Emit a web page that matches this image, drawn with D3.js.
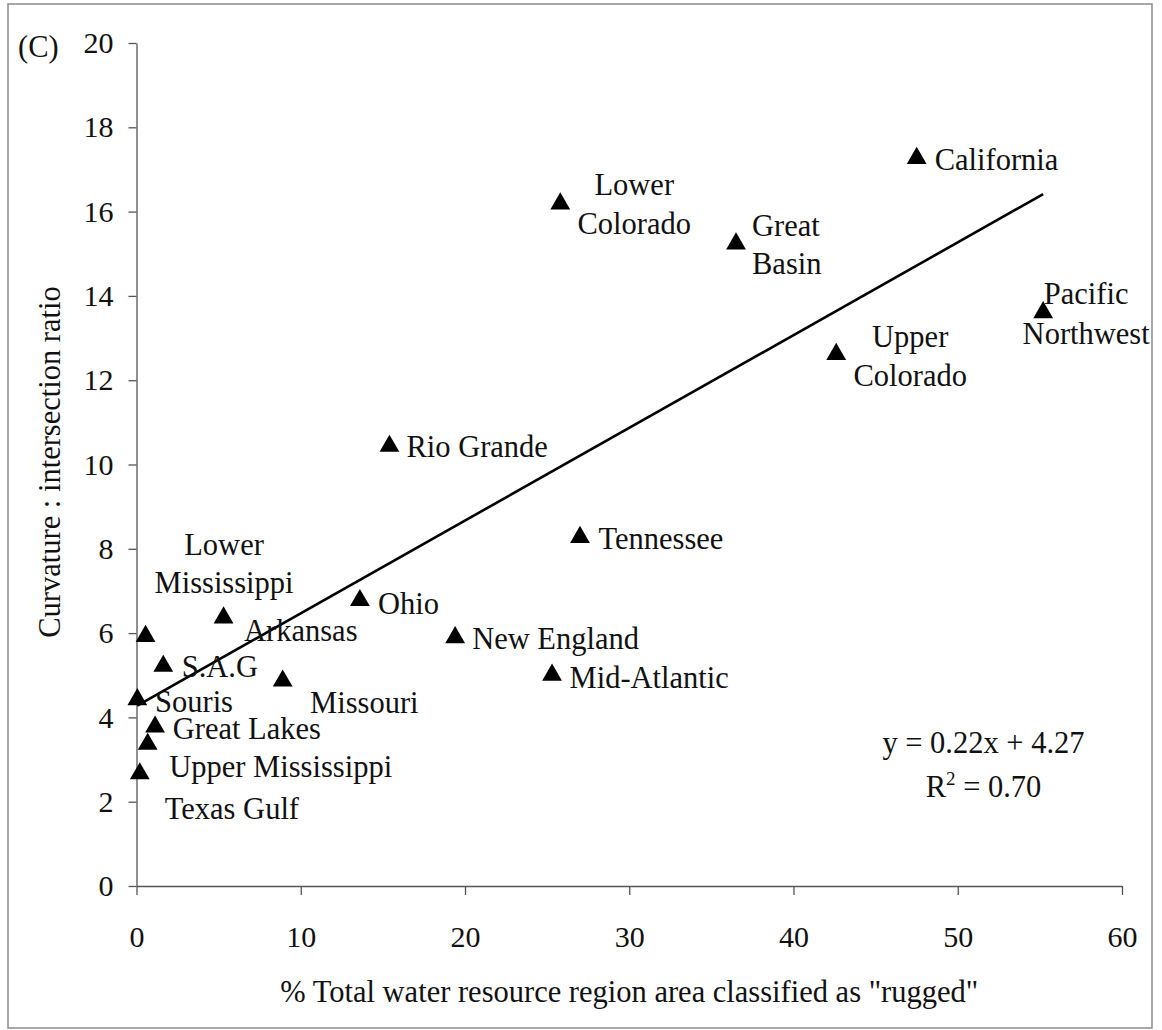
<!DOCTYPE html>
<html>
<head>
<meta charset="utf-8">
<script src="https://cdn.jsdelivr.net/npm/d3@7"></script>
<style>
  html, body { margin: 0; padding: 0; background: #fff; }
  svg { display: block; }
  text { font-family: "Liberation Serif", "Times New Roman", serif; fill: #111; }
</style>
</head>
<body>
<script>
// ---- Data ----
const regions = ["California", "Lower Colorado", "Great Basin", "Pacific Northwest", "Upper Colorado",
  "Rio Grande", "Tennessee", "Ohio", "New England", "Mid-Atlantic", "Lower Mississippi", "Arkansas",
  "S.A.G", "Missouri", "Souris", "Great Lakes", "Upper Mississippi", "Texas Gulf"];
const ruggedPct = [47.5, 25.8, 36.5, 55.2, 42.6, 15.4, 27.0, 13.6, 19.4, 25.3, 5.3, 0.55,
  1.63, 8.9, 0.05, 1.13, 0.68, 0.2];
const curvRatio = [17.29, 16.21, 15.26, 13.63, 12.64, 10.46, 8.30, 6.80, 5.92, 5.03, 6.39, 5.95,
  5.24, 4.89, 4.45, 3.80, 3.39, 2.69];
const xTicks = [0, 10, 20, 30, 40, 50, 60];
const yTicks = [0, 2, 4, 6, 8, 10, 12, 14, 16, 18, 20];
const slope = 0.22, intercept = 4.27, rSquared = "0.70";

// ---- Layout (label placement, pixels relative to marker) ----
const labelLayout = {
  "California":        { anchor: "start",  dx: 18, dys: [2] },
  "Lower Colorado":    { anchor: "middle", dx: 74, dys: [-18, 21], lines: ["Lower", "Colorado"] },
  "Great Basin":       { anchor: "start",  dx: 16, dys: [-17, 21], lines: ["Great", "Basin"] },
  "Pacific Northwest": { anchor: "middle", dx: 43, dys: [-18, 22], lines: ["Pacific", "Northwest"] },
  "Upper Colorado":    { anchor: "middle", dx: 74, dys: [-16.5, 22], lines: ["Upper", "Colorado"] },
  "Rio Grande":        { anchor: "start",  dx: 17, dys: [1.5] },
  "Tennessee":         { anchor: "start",  dx: 18.5, dys: [2] },
  "Ohio":              { anchor: "start",  dx: 18, dys: [3.5] },
  "New England":       { anchor: "start",  dx: 17, dys: [2] },
  "Mid-Atlantic":      { anchor: "start",  dx: 17.5, dys: [3] },
  "Lower Mississippi": { anchor: "middle", dx: 0.5, dys: [-72, -34], lines: ["Lower", "Mississippi"] },
  "Arkansas":          { anchor: "start",  dx: 98.5, dys: [-5] },
  "S.A.G":             { anchor: "start",  dx: 18.4, dys: [1] },
  "Missouri":          { anchor: "start",  dx: 27.4, dys: [22] },
  "Souris":            { anchor: "start",  dx: 17.7, dys: [3] },
  "Great Lakes":       { anchor: "start",  dx: 17.7, dys: [2] },
  "Upper Mississippi": { anchor: "start",  dx: 21.6, dys: [23.6] },
  "Texas Gulf":        { anchor: "start",  dx: 25, dys: [35.7] }
};

const W = 1162, H = 1030;
const plotL = 136.5, plotR = 1122, plotT = 43, plotB = 886;
const FS = 30.5, TFS = 30;

const svg = d3.select("body").append("svg").attr("width", W).attr("height", H);
svg.append("rect").attr("x", 0).attr("y", 0).attr("width", W).attr("height", H).attr("fill", "#fff");

// outer frame
svg.append("rect").attr("x", 8).attr("y", 4).attr("width", 1144).attr("height", 1024)
  .attr("fill", "none").attr("stroke", "#8a8a8a").attr("stroke-width", 1.5);

const x = d3.scaleLinear().domain([0, 60]).range([plotL, plotR]);
const y = d3.scaleLinear().domain([0, 20]).range([plotB, plotT]);

// axes
const xAxis = svg.append("g").attr("transform", `translate(0,${plotB})`)
  .call(d3.axisBottom(x).tickValues(xTicks).tickSize(9).tickSizeOuter(0).tickPadding(31));
const yAxis = svg.append("g").attr("transform", `translate(${plotL},0)`)
  .call(d3.axisLeft(y).tickValues(yTicks).tickSize(8).tickSizeOuter(0).tickPadding(15));
[xAxis, yAxis].forEach(g => {
  g.attr("font-family", null);
  g.select(".domain").attr("stroke", "#555").attr("stroke-width", 1.3);
  g.selectAll(".tick line").attr("stroke", "#555").attr("stroke-width", 1.3);
  g.selectAll(".tick text").attr("font-size", TFS).attr("fill", "#111");
});

// regression line
const xs = d3.extent(ruggedPct);
svg.append("line")
  .attr("x1", x(xs[0])).attr("y1", y(slope * xs[0] + intercept))
  .attr("x2", x(xs[1])).attr("y2", y(slope * xs[1] + intercept))
  .attr("stroke", "#000").attr("stroke-width", 2.6);

// markers
const pts = regions.map((r, i) => ({ name: r, px: ruggedPct[i], py: curvRatio[i] }));
svg.append("g").selectAll("path").data(pts).join("path")
  .attr("d", d3.symbol().type(d3.symbolTriangle).size(170))
  .attr("transform", d => `translate(${x(d.px)},${y(d.py) + 1})`)
  .attr("fill", "#000");

// labels
const lg = svg.append("g");
pts.forEach(d => {
  const L = labelLayout[d.name];
  const lines = L.lines || [d.name];
  lines.forEach((ln, k) => {
    lg.append("text")
      .attr("x", x(d.px) + L.dx)
      .attr("y", y(d.py) + L.dys[k])
      .attr("dy", "0.35em")
      .attr("text-anchor", L.anchor)
      .attr("font-size", FS)
      .text(ln);
  });
});

// equation
const eqX = 983.5;
svg.append("text").attr("x", eqX).attr("y", 753).attr("text-anchor", "middle")
  .attr("font-size", FS).text(`y = ${slope.toFixed(2)}x + ${intercept.toFixed(2)}`);
const r2 = svg.append("text").attr("x", eqX).attr("y", 797).attr("text-anchor", "middle")
  .attr("font-size", FS);
r2.append("tspan").text("R");
r2.append("tspan").attr("font-size", 19).attr("dy", -12).text("2");
r2.append("tspan").attr("dy", 12).text(` = ${rSquared}`);

// axis titles
svg.append("text").attr("x", (plotL + plotR) / 2).attr("y", 1002).attr("text-anchor", "middle")
  .attr("font-size", FS).text('% Total water resource region area classified as "rugged"');
svg.append("text").attr("transform", "translate(60,462) rotate(-90)").attr("text-anchor", "middle")
  .attr("font-size", FS).text("Curvature : intersection ratio");

// panel label
svg.append("text").attr("x", 18).attr("y", 57).attr("font-size", FS).text("(C)");
</script>
</body>
</html>
